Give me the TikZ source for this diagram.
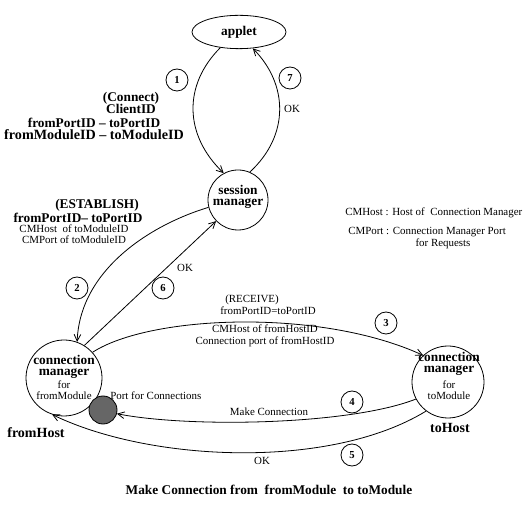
\documentclass[tikz,border=0pt]{standalone}
\usepackage{fontspec}
\setmainfont{Liberation Serif}
\usetikzlibrary{arrows.meta,positioning,shapes.geometric}

\begin{document}
\begin{tikzpicture}[
  x=0.75pt, y=-0.75pt,
  state/.style={circle, draw, line width=0.6pt, inner sep=0pt},
  num/.style={circle, draw, line width=0.6pt, minimum size=16.5pt, inner sep=0pt, font=\bfseries\fontsize{8}{9}\selectfont},
  big/.style={align=center, inner sep=0pt, font=\bfseries\fontsize{10}{9.4}\selectfont},
  tight/.style={big, font=\bfseries\fontsize{10}{8.6}\selectfont},
  small/.style={align=center, inner sep=0pt, font=\fontsize{8.2}{8.6}\selectfont},
  arrow/.style={-{Straight Barb[length=5pt,width=5pt]}, line width=0.6pt}
]
  \useasboundingbox (0,0) rectangle (528,505);

  % processes
  \node[ellipse, draw, line width=0.6pt, minimum width=70.5pt, minimum height=25pt, inner sep=0pt,
        font=\bfseries\fontsize{10}{11}\selectfont] (applet) at (239,32) {applet};
  \node[state, minimum size=45pt] (sm) at (238,200) {};
  \node[tight] (smtxt) at (238,197) {session\\manager};

  \node[state, minimum size=57pt] (cmfrom) at (64,378) {};
  \node[tight] (cmfromtxt) at (64,367) {connection\\manager};
  \node[small] (cmfromsub) at (64,390) {for\\fromModule};
  \node[state, fill=black!60, minimum size=21pt] (port) at (103,410) {};
  \node[small, anchor=west] (portlbl) at (110,396) {Port for Connections};
  \node[big, font=\bfseries\fontsize{10.5}{12}\selectfont] (fromhost) at (36,433) {fromHost};

  \node[state, minimum size=54pt] (cmto) at (448,382) {};
  \node[tight] (cmtotxt) at (449,364) {connection\\manager};
  \node[small] (cmtosub) at (449,390) {for\\toModule};
  \node[big, font=\bfseries\fontsize{10.5}{12}\selectfont] (tohost) at (450,428) {toHost};

  % messages
  \draw[arrow] (applet.220) .. controls (183,85) and (184,135) .. (sm.118);
  \draw[arrow] (sm.67) .. controls (290,135) and (288,84) .. (applet.310);
  \draw[arrow] (sm.194) .. controls (150,225) and (80,270) .. (cmfrom.70);
  \draw[arrow] (cmfrom.58) -- (sm.224);
  \draw[arrow] (cmfrom.42) .. controls (150,315) and (320,308) .. (cmto.133);
  \draw[arrow] (cmto.208) .. controls (350,425) and (190,428) .. (port.-15);
  \draw[arrow] (cmto.233) .. controls (330,470) and (150,462) .. (cmfrom.252);

  \node[num] (n1) at (177,80) {1};
  \node[num] (n7) at (290,78) {7};
  \node[num] (n2) at (77,288) {2};
  \node[num] (n6) at (163,288) {6};
  \node[num] (n3) at (386,323) {3};
  \node[num] (n4) at (352,402) {4};
  \node[num] (n5) at (352,455) {5};

  % labels
  \node[big] (connect) at (131,103) {(Connect)\\ClientID};
  \node[big] (connectids) at (94,129) {fromPortID -- toPortID\\{\fontsize{10.6}{12}\selectfont fromModuleID -- toModuleID}};
  \node[small] (ok7) at (292,109) {OK};
  \node[big] (establish) at (97,205) {(ESTABLISH)};
  \node[big] (establishids) at (78,218) {fromPortID-- toPortID};
  \node[small] (establishcm) at (74,234) {CMHost\ \ of toModuleID\\CMPort of toModuleID};
  \node[small] (ok6) at (185,268) {OK};
  \node[small] (receive) at (252,300) {(RECEIVE)};
  \node[small] (receiveids) at (268,311) {fromPortID=toPortID};
  \node[small] (receivecm) at (265,336) {CMHost of fromHostID\\Connection port of fromHostID};
  \node[small] (makeconn) at (269,412) {Make Connection};
  \node[small] (ok5) at (262,461) {OK};

  % legend
  \node[small, anchor=west] (legend1) at (345,213) {CMHost : Host of\ \ Connection Manager};
  \node[small, anchor=west] (legend2) at (348,232) {CMPort : Connection Manager Port};
  \node[small] (legend3) at (443,244) {for Requests};

  \node[big] (title) at (269,490) {Make Connection from\ \ fromModule\ \ to toModule};
\end{tikzpicture}
\end{document}
